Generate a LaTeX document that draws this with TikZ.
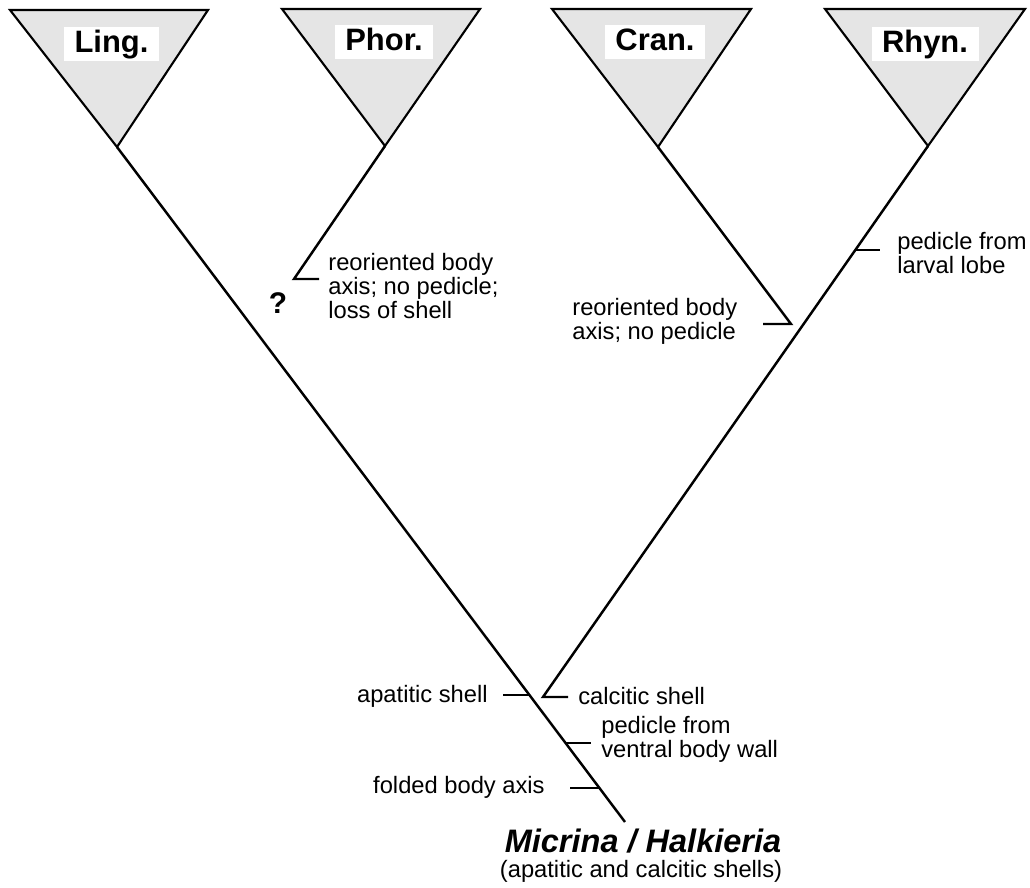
\documentclass[tikz,border=0pt]{standalone}
\usepackage{fontspec}
\setmainfont{Liberation Sans}
\usepackage{tikz}
\usetikzlibrary{calc}

\begin{document}
\begin{tikzpicture}[x=2cm,y=2cm,
	clade/.style={draw=black, line width=1.2pt, fill=gray!20},
	branch/.style={black, line width=1.4pt},
	taxon/.style={fill=white, inner xsep=6pt, inner ysep=1.5pt, text height=13pt, text depth=3.5pt, font=\fontsize{17.6}{18}\selectfont\bfseries},
	trait/.style={align=left, inner sep=0pt, font=\fontsize{13.5}{13.8}\selectfont}]
	
	\useasboundingbox (0,0) rectangle (10.30,8.87);
	\coordinate (ling) at (1.17,7.40);
	\coordinate (phor) at (3.85,7.41);
	\coordinate (cran) at (6.58,7.40);
	\coordinate (rhyn) at (9.28,7.41);
	\coordinate (root) at (6.25,0.65);
	\filldraw[clade](0.10,8.77)--(2.08,8.77)--(ling)--cycle;
	\filldraw[clade](2.82,8.78)--(4.80,8.78)--(phor)--cycle;
	\filldraw[clade](5.52,8.78)--(7.51,8.78)--(cran)--cycle;
	\filldraw[clade](8.25,8.78)--(10.25,8.78)--(rhyn)--cycle;
	\node[taxon] (lingtxt) at (1.115,8.43){Ling.};
	\node[taxon] (phortxt) at (3.84,8.45){Phor.};
	\node[taxon] (crantxt) at (6.55,8.45){Cran.};
	\node[taxon] (rhyntxt) at (9.25,8.43){Rhyn.};
	
	\coordinate (phorend) at (2.94,6.08);
	\coordinate (cranend) at (7.91,5.63);
	\coordinate (rhynend) at (5.43,1.90);
	\draw[branch](ling)--(root);
	\draw[branch](phor)--(phorend)--++(0.25,0);
	\draw[branch](cran)--(cranend)--++(-0.28,0);
	\draw[branch](rhyn)--(rhynend)--++(0.25,0);
	\draw[branch]($(rhyn)!0.1887!(rhynend)$)--++(0.25,0);
	\draw[branch]($(ling)!0.812!(root)$)--++(-0.26,0);
	\draw[branch]($(ling)!0.883!(root)$)--++(0.25,0);
	\draw[branch]($(ling)!0.9496!(root)$)--++(-0.29,0);
	
	\node[trait, anchor=west] (phorloss) at (3.28,6.01){reoriented body\\axis; no pedicle;\\loss of shell};
	\node[font=\fontsize{17}{17}\selectfont\bfseries] (query) at (2.78,5.84){?};
	\node[trait, anchor=west] (cranaxis) at (5.72,5.66){reoriented body\\axis; no pedicle};
	\node[trait, anchor=west] (rhynped) at (8.97,6.34){pedicle from\\larval lobe};
	\node[trait, anchor=east] (apatitic) at (4.88,1.91){apatitic shell};
	\node[trait, anchor=west] (calcitic) at (5.78,1.91){calcitic shell};
	\node[trait, anchor=west] (ventral) at (6.01,1.48){pedicle from\\ventral body wall};
	\node[trait, anchor=east] (folded) at (5.45,1.00){folded body axis};
	\node[font=\fontsize{18.5}{18.5}\selectfont\bfseries\itshape, inner sep=1pt] (ancestor) at (6.43,0.46){Micrina / Halkieria};
	\node[trait] (shells) at (6.41,0.155){(apatitic and calcitic shells)};
\end{tikzpicture}
\end{document}
